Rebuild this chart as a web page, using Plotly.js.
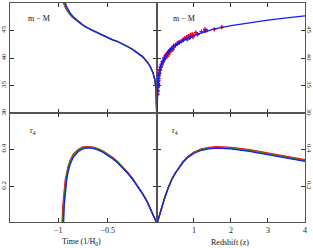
<!DOCTYPE html>
<html><head><meta charset="utf-8">
<script src="https://cdn.plot.ly/plotly-3.0.1.min.js"></script>
<style>html,body{margin:0;padding:0;background:#fff}#chart{width:313px;height:248px}</style>
</head><body><div id="chart"></div>
<script>
// ---- top-left: distance modulus vs time ----
const tlMu      = [28, 31.5, 33.0, 34.4, 35.9, 37.3, 38.5, 39.3, 40.3, 41.0, 41.6, 42.1, 42.6, 43.0, 43.3, 43.7, 44.1, 44.5, 44.95, 45.45, 46.0, 46.7, 47.5, 48.2, 49.1, 50.3];
const tlTBlue   = [0, -0.002, -0.005, -0.01, -0.02, -0.04, -0.07, -0.1, -0.15, -0.2, -0.25, -0.3, -0.35, -0.4, -0.45, -0.5, -0.55, -0.6, -0.65, -0.7, -0.75, -0.8, -0.85, -0.88, -0.91, -0.935];
const tlTGreen  = [0, -0.002, -0.005, -0.01, -0.02, -0.04, -0.07, -0.1, -0.15, -0.2, -0.25, -0.3, -0.35, -0.4, -0.45, -0.5, -0.55, -0.6, -0.651, -0.701, -0.752, -0.803, -0.856, -0.887, -0.918, -0.944];
const tlTBrown  = [0, -0.002, -0.005, -0.01, -0.02, -0.04, -0.07, -0.1, -0.15, -0.2, -0.25, -0.3, -0.35, -0.4, -0.45, -0.5, -0.551, -0.601, -0.652, -0.703, -0.754, -0.805, -0.86, -0.892, -0.923, -0.95];
const tlTRed    = [0, -0.002, -0.005, -0.01, -0.02, -0.04, -0.07, -0.1, -0.15, -0.2, -0.25, -0.3, -0.35, -0.4, -0.45, -0.501, -0.552, -0.602, -0.653, -0.704, -0.756, -0.807, -0.863, -0.896, -0.928, -0.955];

// ---- top-right: distance modulus vs redshift ----
const trZ  = [0.0015, 0.0025, 0.005, 0.01, 0.02, 0.04, 0.07, 0.1, 0.15, 0.2, 0.3, 0.4, 0.5, 0.6, 0.7, 0.8, 1.0, 1.2, 1.5, 2.0, 2.5, 3.0, 3.5, 4.0];
const trMu = [29.0, 30.15, 31.65, 33.18, 34.7, 36.23, 37.49, 38.32, 39.27, 39.96, 40.96, 41.69, 42.26, 42.74, 43.15, 43.5, 44.1, 44.59, 45.2, 45.9, 46.45, 46.9, 47.3, 47.65];

// supernova data (red set)
const snRedZ   = [0.01, 0.015, 0.02, 0.025, 0.03, 0.035, 0.04, 0.05, 0.06, 0.08, 0.1, 0.12, 0.15, 0.18, 0.2, 0.22, 0.25, 0.27, 0.3, 0.32, 0.35, 0.38, 0.4, 0.43, 0.45, 0.5, 0.55, 0.6, 0.65, 0.7, 0.75, 0.8, 0.83, 0.85, 0.88, 0.9, 0.95, 0.97, 1.0, 1.05, 1.2, 1.3, 1.35, 1.55, 1.75];
const snRedMu  = [33.3, 33.9, 34.6, 35.3, 35.4, 35.9, 36.0, 36.8, 37.3, 37.8, 38.4, 38.7, 39.3, 39.6, 40.1, 40.0, 40.6, 40.3, 41.0, 40.7, 41.4, 41.3, 41.8, 41.6, 42.2, 42.4, 42.6, 42.9, 43.0, 43.3, 43.6, 43.8, 43.5, 44.0, 43.7, 44.2, 44.3, 43.9, 44.1, 44.6, 44.8, 45.2, 45.0, 45.2, 45.6];
const snRedErr = [0.9, 0.3, 0.4, 0.4, 0.5, 0.3, 0.4, 0.3, 0.4, 0.5, 0.4, 0.3, 0.4, 0.3, 0.4, 0.5, 0.3, 0.4, 0.4, 0.5, 0.3, 0.4, 0.3, 0.5, 0.4, 0.3, 0.4, 0.4, 0.3, 0.4, 0.3, 0.4, 0.5, 0.3, 0.4, 0.3, 0.4, 0.5, 0.3, 0.4, 0.3, 0.4, 0.3, 0.3, 0.3];
// supernova data (blue set)
const snBlueZ   = [0.012, 0.015, 0.02, 0.025, 0.03, 0.04, 0.05, 0.06, 0.08, 0.1, 0.13, 0.16, 0.2, 0.24, 0.28, 0.32, 0.36, 0.4, 0.45, 0.5, 0.55, 0.6, 0.7, 0.8, 0.9, 1.1, 1.3];
const snBlueMu  = [33.5, 34.1, 34.8, 35.2, 35.7, 36.3, 36.9, 37.2, 37.9, 38.3, 38.9, 39.3, 39.9, 40.4, 40.8, 41.2, 41.5, 41.7, 42.0, 42.3, 42.6, 42.8, 43.2, 43.5, 43.8, 44.3, 44.9];
const snBlueErr = [0.2, 0.2, 0.2, 0.2, 0.2, 0.2, 0.2, 0.2, 0.2, 0.2, 0.2, 0.2, 0.2, 0.2, 0.2, 0.2, 0.2, 0.2, 0.2, 0.2, 0.2, 0.2, 0.2, 0.2, 0.2, 0.2, 0.2];

// ---- bottom-left: r4 vs time ----
const blTBlue  = [0, -0.05, -0.1, -0.15, -0.2, -0.25, -0.3, -0.35, -0.4, -0.45, -0.5, -0.55, -0.6, -0.65, -0.7, -0.75, -0.8, -0.85, -0.88, -0.9, -0.915, -0.93, -0.94, -0.947];
const blRBlue  = [0, 0.062, 0.118, 0.163, 0.204, 0.24, 0.272, 0.301, 0.327, 0.349, 0.368, 0.384, 0.396, 0.404, 0.407, 0.402, 0.386, 0.355, 0.318, 0.28, 0.235, 0.165, 0.1, 0.0];
const blTGreen = [0, -0.05, -0.1, -0.15, -0.2, -0.25, -0.3, -0.35, -0.4, -0.45, -0.5, -0.55, -0.6, -0.65, -0.7, -0.75, -0.8, -0.85, -0.88, -0.9, -0.92, -0.935, -0.945, -0.953];
const blRGreen = [0, 0.062, 0.119, 0.164, 0.206, 0.242, 0.274, 0.304, 0.33, 0.352, 0.371, 0.387, 0.399, 0.407, 0.41, 0.407, 0.392, 0.364, 0.33, 0.296, 0.238, 0.165, 0.095, 0.0];
const blTBrown = [0, -0.05, -0.1, -0.15, -0.2, -0.25, -0.3, -0.35, -0.4, -0.45, -0.5, -0.55, -0.6, -0.65, -0.7, -0.75, -0.8, -0.85, -0.88, -0.9, -0.925, -0.94, -0.95, -0.958];
const blRBrown = [0, 0.062, 0.12, 0.165, 0.207, 0.244, 0.276, 0.306, 0.332, 0.354, 0.373, 0.389, 0.401, 0.409, 0.412, 0.409, 0.395, 0.368, 0.336, 0.303, 0.235, 0.16, 0.09, 0.0];
const blTRed   = [0, -0.05, -0.1, -0.15, -0.2, -0.25, -0.3, -0.35, -0.4, -0.45, -0.5, -0.55, -0.6, -0.65, -0.7, -0.75, -0.8, -0.85, -0.88, -0.9, -0.93, -0.945, -0.955, -0.963];
const blRRed   = [0, 0.062, 0.12, 0.166, 0.208, 0.245, 0.278, 0.308, 0.334, 0.356, 0.375, 0.391, 0.403, 0.411, 0.414, 0.412, 0.398, 0.372, 0.341, 0.31, 0.235, 0.16, 0.09, 0.0];

// ---- bottom-right: r4 vs redshift ----
const brZ      = [0, 0.1, 0.2, 0.3, 0.4, 0.5, 0.6, 0.7, 0.8, 0.9, 1.0, 1.2, 1.4, 1.6, 1.8, 2.0, 2.5, 3.0, 3.5, 4.0];
const brRBlue  = [0, 0.07, 0.134, 0.19, 0.237, 0.272, 0.302, 0.328, 0.35, 0.366, 0.378, 0.394, 0.402, 0.405, 0.404, 0.401, 0.388, 0.371, 0.352, 0.334];
const brRGreen = [0, 0.07, 0.134, 0.19, 0.237, 0.272, 0.303, 0.329, 0.351, 0.368, 0.38, 0.396, 0.405, 0.408, 0.407, 0.404, 0.391, 0.374, 0.355, 0.337];
const brRBrown = [0, 0.07, 0.134, 0.19, 0.238, 0.273, 0.304, 0.331, 0.353, 0.37, 0.382, 0.399, 0.407, 0.41, 0.41, 0.407, 0.394, 0.377, 0.358, 0.34];
const brRRed   = [0, 0.07, 0.135, 0.191, 0.239, 0.274, 0.306, 0.333, 0.355, 0.372, 0.384, 0.401, 0.41, 0.413, 0.413, 0.41, 0.397, 0.38, 0.361, 0.343];

const timeTicks = [-1, -0.5];
const timeLabels = ['\u22121', '\u22120.5'];
const zTicks = [1, 2, 3, 4];
const zLabels = ['1', '2', '3', '4'];
const muTicks = [30, 35, 40, 45, 50];
const rTicks = [0.2, 0.4];
const rLabels = ['0.2', '0.4'];

const RED = '#ff0000', GREEN = '#00a800', BROWN = '#9a5b1e', BLUE = '#1a1aff';
const lw = 1.3;
function line(x, y, c, xa, ya) {
  return {x: x, y: y, type: 'scatter', mode: 'lines', line: {color: c, width: lw}, xaxis: xa, yaxis: ya, hoverinfo: 'skip'};
}

const traces = [
  line(tlTRed, tlMu, RED, 'x3', 'y3'),
  line(tlTBrown, tlMu, BROWN, 'x3', 'y3'),
  line(tlTGreen, tlMu, GREEN, 'x3', 'y3'),
  line(tlTBlue, tlMu, BLUE, 'x3', 'y3'),
  {x: snRedZ, y: snRedMu, type: 'scatter', mode: 'markers', xaxis: 'x4', yaxis: 'y4',
   marker: {color: RED, size: 3, symbol: 'cross-thin', line: {color: RED, width: 1.2}},
   error_y: {type: 'data', array: snRedErr, color: RED, thickness: 0.8, width: 0}},
  {x: snBlueZ, y: snBlueMu, type: 'scatter', mode: 'markers', xaxis: 'x4', yaxis: 'y4',
   marker: {color: BLUE, size: 3, symbol: 'cross-thin', line: {color: BLUE, width: 1.2}},
   error_y: {type: 'data', array: snBlueErr, color: BLUE, thickness: 0.8, width: 0}},
  line(trZ, trMu, BLUE, 'x4', 'y4'),
  line(blTRed, blRRed, RED, 'x', 'y'),
  line(blTBrown, blRBrown, BROWN, 'x', 'y'),
  line(blTGreen, blRGreen, GREEN, 'x', 'y'),
  line(blTBlue, blRBlue, BLUE, 'x', 'y'),
  line(brZ, brRRed, RED, 'x2', 'y2'),
  line(brZ, brRBrown, BROWN, 'x2', 'y2'),
  line(brZ, brRGreen, GREEN, 'x2', 'y2'),
  line(brZ, brRBlue, BLUE, 'x2', 'y2')
];

const F = 'Liberation Serif, DejaVu Serif, serif';
const AX = {showline: true, linecolor: '#555', linewidth: 1.2, mirror: 'ticks', ticks: 'inside',
  ticklen: 4, tickcolor: '#333', tickwidth: 1, showgrid: false, zeroline: false,
  tickfont: {family: F, size: 8, color: '#222'}, fixedrange: true};
const YF = {family: F, size: 7, color: '#222'};
const xd = 0.4983, yd = 0.4977;

const layout = {
  width: 313, height: 248,
  margin: {l: 10, r: 8, t: 3, b: 26, pad: 0},
  paper_bgcolor: '#fff', plot_bgcolor: '#fff', showlegend: false,
  font: {family: F, size: 8, color: '#222'},
  xaxis:  Object.assign({}, AX, {domain: [0, xd], anchor: 'y', range: [-1.49, 0], tickvals: timeTicks, ticktext: timeLabels}),
  yaxis:  Object.assign({}, AX, {domain: [0, yd], anchor: 'x', range: [0.009, 0.594], tickvals: rTicks, ticktext: rLabels, tickangle: -90, tickfont: YF}),
  xaxis2: Object.assign({}, AX, {domain: [xd, 1], anchor: 'y2', range: [0, 4], tickvals: zTicks, ticktext: zLabels}),
  yaxis2: Object.assign({}, AX, {domain: [0, yd], anchor: 'x2', side: 'right', range: [0.009, 0.594], tickvals: rTicks, ticktext: rLabels, tickangle: 90, tickfont: YF, ticklabelstandoff: -2}),
  xaxis3: Object.assign({}, AX, {domain: [0, xd], anchor: 'y3', range: [-1.49, 0], tickvals: timeTicks, showticklabels: false}),
  yaxis3: Object.assign({}, AX, {domain: [yd, 1], anchor: 'x3', range: [30, 50], tickvals: muTicks, tickangle: -90, tickfont: YF}),
  xaxis4: Object.assign({}, AX, {domain: [xd, 1], anchor: 'y4', range: [0, 4], tickvals: zTicks, showticklabels: false}),
  yaxis4: Object.assign({}, AX, {domain: [yd, 1], anchor: 'x4', side: 'right', range: [30, 50], tickvals: muTicks, tickangle: 90, tickfont: YF, ticklabelstandoff: -2}),
  annotations: [
    {xref: 'x3', yref: 'y3', x: -1.2, y: 47.2, text: 'm \u2212 M', showarrow: false, font: {family: F, size: 8, color: '#111'}},
    {xref: 'x4', yref: 'y4', x: 0.74, y: 47.2, text: 'm \u2212 M', showarrow: false, font: {family: F, size: 8, color: '#111'}},
    {xref: 'x', yref: 'y', x: -1.26, y: 0.5, text: 'r<sub>4</sub>', showarrow: false, font: {family: F, size: 8, color: '#111'}},
    {xref: 'x2', yref: 'y2', x: 0.5, y: 0.5, text: 'r<sub>4</sub>', showarrow: false, font: {family: F, size: 8, color: '#111'}},
    {xref: 'x', yref: 'paper', x: -0.77, y: 0, yanchor: 'middle', yshift: -20, text: 'Time (1/H<sub>0</sub>)', showarrow: false, font: {family: F, size: 8, color: '#111'}},
    {xref: 'x2', yref: 'paper', x: 1.97, y: 0, yanchor: 'middle', yshift: -20, text: 'Redshift (z)', showarrow: false, font: {family: F, size: 8, color: '#111'}}
  ]
};

Plotly.newPlot('chart', traces, layout, {staticPlot: true, displayModeBar: false});
</script>
</body></html>
